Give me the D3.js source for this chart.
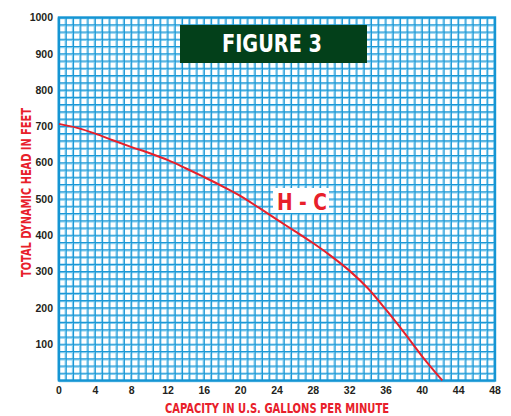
<!DOCTYPE html>
<html>
<head>
<meta charset="utf-8">
<script src="https://cdn.jsdelivr.net/npm/d3@7"></script>
<style>
  html, body { margin: 0; padding: 0; background: #fff; }
  svg { display: block; }
  text { font-family: "Liberation Sans", Arial, sans-serif; }
  .cond { font-family: "Liberation Sans Narrow", "DejaVu Sans Condensed", "Liberation Sans", sans-serif; font-weight: bold; }
</style>
</head>
<body>
<svg id="chart" width="511" height="416"></svg>
<script>
// ── Data ──────────────────────────────────────────────────────────────────
const capacityGpm = [0, 2, 4, 6, 8, 10, 12, 14, 16, 18, 20, 22, 24, 26, 28, 30, 32, 34, 36, 38, 40, 42.2];
const headFeet    = [707, 696, 680, 661, 643, 626, 607, 584, 560, 535, 508, 476, 443, 411, 378, 342, 302, 254, 195, 132, 66, 0];

const xTicks = [0, 4, 8, 12, 16, 20, 24, 28, 32, 36, 40, 44, 48];
const yTicks = [100, 200, 300, 400, 500, 600, 700, 800, 900, 1000];

const chartTitle  = 'FIGURE 3';
const curveLabel  = 'H - C';
const xTitle      = 'CAPACITY IN U.S. GALLONS PER MINUTE';
const yTitle      = 'TOTAL DYNAMIC HEAD IN FEET';

// ── Layout ────────────────────────────────────────────────────────────────
const plotL = 59, plotR = 495, plotT = 17.5, plotB = 380.5;
const RED = '#e8202a';
const GRID = '#1b98d6';

const svg = d3.select('#chart');

const x = d3.scaleLinear().domain([0, 48]).range([plotL, plotR]);
const y = d3.scaleLinear().domain([0, 1000]).range([plotB, plotT]);

// ── Grid (60 x 50 small squares) ──────────────────────────────────────────
const grid = svg.append('g').attr('class', 'grid');
const vLines = d3.range(0, 61).map(i => i * 0.8);
const hLines = d3.range(0, 51).map(i => i * 20);

grid.append('g').selectAll('line').data(vLines).join('line')
  .attr('x1', d => x(d) - 1).attr('x2', d => x(d) - 1)
  .attr('y1', plotT).attr('y2', plotB)
  .attr('stroke', '#86cdee').attr('stroke-width', 1.4);
grid.append('g').selectAll('line').data(hLines).join('line')
  .attr('y1', d => y(d) + 1).attr('y2', d => y(d) + 1)
  .attr('x1', plotL).attr('x2', plotR)
  .attr('stroke', '#86cdee').attr('stroke-width', 1.4);

grid.append('g').selectAll('line').data(vLines).join('line')
  .attr('x1', d => x(d)).attr('x2', d => x(d))
  .attr('y1', plotT).attr('y2', plotB)
  .attr('stroke', GRID).attr('stroke-width', 1.1);
grid.append('g').selectAll('line').data(hLines).join('line')
  .attr('y1', d => y(d)).attr('y2', d => y(d))
  .attr('x1', plotL).attr('x2', plotR)
  .attr('stroke', GRID).attr('stroke-width', 1.1);

// frame
svg.append('rect')
  .attr('x', plotL).attr('y', plotT)
  .attr('width', plotR - plotL).attr('height', plotB - plotT)
  .attr('fill', 'none').attr('stroke', '#1595d3').attr('stroke-width', 2.4);

// ── Tick labels ───────────────────────────────────────────────────────────
svg.append('g').selectAll('text').data(xTicks).join('text')
  .attr('x', d => x(d)).attr('y', 393.5)
  .attr('text-anchor', 'middle')
  .attr('font-size', 10.5).attr('font-weight', 'bold').attr('fill', '#231f20')
  .text(d => d);

svg.append('g').selectAll('text').data(yTicks).join('text')
  .attr('x', 53).attr('y', d => y(d) + 3.7)
  .attr('text-anchor', 'end')
  .attr('font-size', 10.5).attr('font-weight', 'bold').attr('fill', '#231f20')
  .text(d => d);

// ── Axis titles ───────────────────────────────────────────────────────────
svg.append('text').attr('class', 'cond')
  .attr('x', 277).attr('y', 412.5)
  .attr('text-anchor', 'middle')
  .attr('font-size', 14).attr('fill', RED)
  .attr('textLength', 224).attr('lengthAdjust', 'spacingAndGlyphs')
  .text(xTitle);

svg.append('text').attr('class', 'cond')
  .attr('transform', 'translate(30.5,192.5) rotate(-90)')
  .attr('text-anchor', 'middle')
  .attr('font-size', 14.5).attr('fill', RED)
  .attr('textLength', 169).attr('lengthAdjust', 'spacingAndGlyphs')
  .text(yTitle);

// ── Title box ─────────────────────────────────────────────────────────────
svg.append('rect')
  .attr('x', 180).attr('y', 25).attr('width', 187).attr('height', 38)
  .attr('fill', '#03401a');
svg.append('text').attr('class', 'cond')
  .attr('x', 272).attr('y', 51.7)
  .attr('text-anchor', 'middle')
  .attr('font-size', 25).attr('fill', '#fff')
  .attr('textLength', 100).attr('lengthAdjust', 'spacingAndGlyphs')
  .text(chartTitle);

// ── Curve ─────────────────────────────────────────────────────────────────
const points = capacityGpm.map((g, i) => [g, headFeet[i]]);
const line = d3.line()
  .x(d => x(d[0]))
  .y(d => y(d[1]))
  .curve(d3.curveMonotoneX);

svg.append('path')
  .datum(points)
  .attr('d', line)
  .attr('fill', 'none')
  .attr('stroke', RED)
  .attr('stroke-width', 2);

// ── Curve label ───────────────────────────────────────────────────────────
svg.append('rect')
  .attr('x', 273).attr('y', 188).attr('width', 56).attr('height', 25)
  .attr('fill', '#fff');
svg.append('text').attr('class', 'cond')
  .attr('x', 302).attr('y', 210)
  .attr('text-anchor', 'middle')
  .attr('font-size', 23).attr('fill', RED)
  .attr('textLength', 50).attr('lengthAdjust', 'spacingAndGlyphs')
  .text(curveLabel);
</script>
</body>
</html>
